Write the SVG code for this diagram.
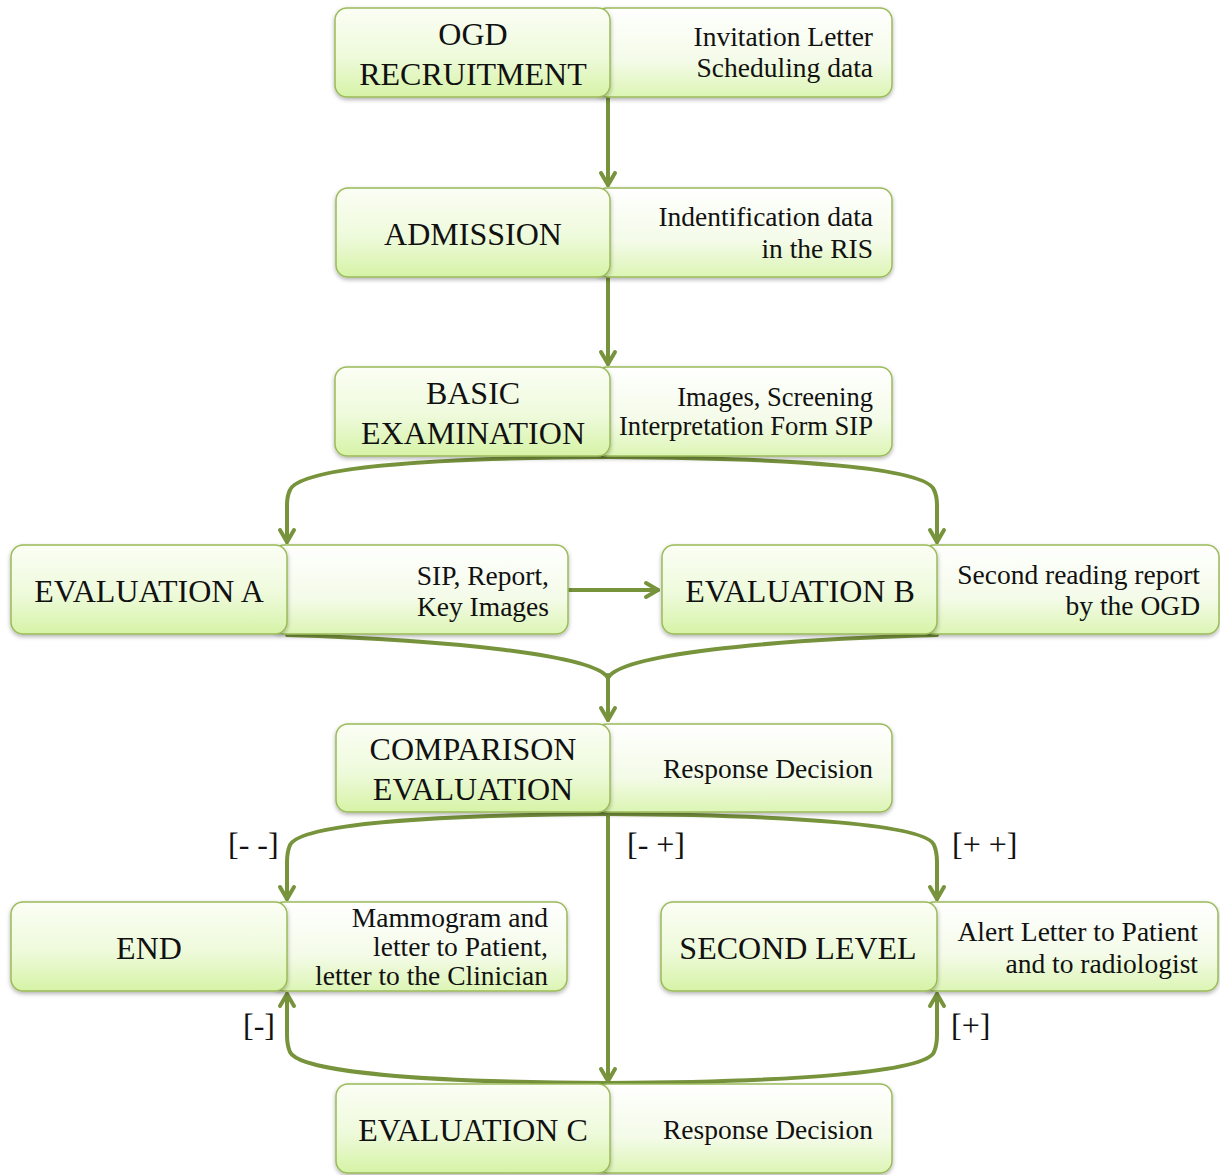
<svg xmlns="http://www.w3.org/2000/svg" width="1220" height="1175" viewBox="0 0 1220 1175">
  <defs>
    <linearGradient id="gMain" x1="0" y1="0" x2="0" y2="1">
      <stop offset="0" stop-color="#fbfef5"/>
      <stop offset="0.55" stop-color="#eefadb"/>
      <stop offset="1" stop-color="#d6f3a6"/>
    </linearGradient>
    <linearGradient id="gSide" x1="0" y1="0" x2="0" y2="1">
      <stop offset="0" stop-color="#ffffff"/>
      <stop offset="0.6" stop-color="#f4fbe8"/>
      <stop offset="1" stop-color="#dcf5b4"/>
    </linearGradient>
    <filter id="shadow" x="-5%" y="-10%" width="110%" height="130%">
      <feDropShadow dx="0" dy="2" stdDeviation="2" flood-color="#000" flood-opacity="0.3"/>
    </filter>
    <!-- open V arrowhead, drawn pointing along +x -->
    <marker id="arrow" viewBox="0 0 16 18" refX="14" refY="9" markerWidth="16" markerHeight="18" markerUnits="userSpaceOnUse" orient="auto" overflow="visible">
      <path d="M2,2 L14,9 L2,16" fill="none" stroke="#77933c" stroke-width="4" stroke-linecap="round" stroke-linejoin="round"/>
    </marker>
  </defs>
  <style>
    .main { fill: url(#gMain); stroke: #9bbb59; stroke-width: 1.5; filter: url(#shadow); }
    .side { fill: url(#gSide); stroke: #9bbb59; stroke-width: 1.5; filter: url(#shadow); }
    .title { font-family: "Liberation Serif", "DejaVu Serif", serif; font-size: 32px; fill: #111; text-anchor: middle; }
    .note { font-family: "Liberation Serif", "DejaVu Serif", serif; font-size: 27.5px; fill: #111; text-anchor: end; }
    .note.sm { font-size: 26.5px; }
    .lbl { font-family: "Liberation Serif", "DejaVu Serif", serif; font-size: 32px; fill: #111; }
    .conn path, .conn line { fill: none; stroke: #77933c; stroke-width: 4; stroke-linecap: round; }
  </style>

  <rect width="1220" height="1175" fill="#ffffff"/>

  <!-- connectors -->
  <g class="conn">
    <line x1="608" y1="98" x2="608" y2="185" marker-end="url(#arrow)"/>
    <line x1="608" y1="278" x2="608" y2="364" marker-end="url(#arrow)"/>
    <path d="M608,457 C420,458 300,468 290,490 Q287,496 287,505 L287,542" marker-end="url(#arrow)"/>
    <path d="M608,457 C796,458 926,468 934,490 Q937,496 937,505 L937,542" marker-end="url(#arrow)"/>
    <line x1="569" y1="590" x2="658" y2="590" marker-end="url(#arrow)"/>
    <path d="M287,635 C450,640 595,655 608,678"/>
    <path d="M937,635 C760,640 620,655 608,678"/>
    <line x1="608" y1="675" x2="608" y2="720" marker-end="url(#arrow)"/>
    <path d="M608,814 C420,815 300,825 290,845 Q287,852 287,862 L287,899" marker-end="url(#arrow)"/>
    <path d="M608,814 C796,815 926,825 934,845 Q937,852 937,862 L937,899" marker-end="url(#arrow)"/>
    <line x1="608" y1="814" x2="608" y2="1081" marker-end="url(#arrow)"/>
    <path d="M608,1083 C420,1082 300,1072 290,1052 Q287,1045 287,1035 L287,994" marker-end="url(#arrow)"/>
    <path d="M608,1083 C796,1082 926,1072 934,1052 Q937,1045 937,1035 L937,994" marker-end="url(#arrow)"/>
  </g>

  <!-- branch labels -->
  <text class="lbl" x="228" y="855">[- -]</text>
  <text class="lbl" x="627" y="855">[- +]</text>
  <text class="lbl" x="952" y="855">[+ +]</text>
  <text class="lbl" x="243" y="1036">[-]</text>
  <text class="lbl" x="951" y="1036">[+]</text>

  <!-- nodes -->
  <g id="ogd-recruitment">
    <rect class="side" x="595" y="8" width="297" height="89" rx="12"/>
    <rect class="main" x="335" y="8" width="275" height="89" rx="12"/>
    <text class="title" x="473" y="45">OGD</text>
    <text class="title" x="473" y="85">RECRUITMENT</text>
    <text class="note" x="873" y="46">Invitation Letter</text>
    <text class="note" x="873" y="77">Scheduling data</text>
  </g>

  <g id="admission">
    <rect class="side" x="595" y="188" width="297" height="89" rx="12"/>
    <rect class="main" x="336" y="188" width="274" height="89" rx="12"/>
    <text class="title" x="473" y="245">ADMISSION</text>
    <text class="note" x="873" y="226">Indentification data</text>
    <text class="note" x="873" y="258">in the RIS</text>
  </g>

  <g id="basic-examination">
    <rect class="side" x="595" y="367" width="297" height="89" rx="12"/>
    <rect class="main" x="335" y="367" width="275" height="89" rx="12"/>
    <text class="title" x="473" y="404">BASIC</text>
    <text class="title" x="473" y="444">EXAMINATION</text>
    <text class="note sm" x="873" y="406">Images, Screening</text>
    <text class="note sm" x="873" y="435" textLength="254" lengthAdjust="spacingAndGlyphs">Interpretation Form SIP</text>
  </g>

  <g id="evaluation-a">
    <rect class="side" x="272" y="545" width="296" height="89" rx="12"/>
    <rect class="main" x="11" y="545" width="276" height="89" rx="12"/>
    <text class="title" x="149" y="602">EVALUATION A</text>
    <text class="note" x="549" y="585">SIP, Report,</text>
    <text class="note" x="549" y="616">Key Images</text>
  </g>

  <g id="evaluation-b">
    <rect class="side" x="922" y="545" width="297" height="89" rx="12"/>
    <rect class="main" x="662" y="545" width="275" height="89" rx="12"/>
    <text class="title" x="800" y="602">EVALUATION B</text>
    <text class="note" x="1200" y="584">Second reading report</text>
    <text class="note" x="1200" y="615">by the OGD</text>
  </g>

  <g id="comparison-evaluation">
    <rect class="side" x="595" y="724" width="297" height="88" rx="12"/>
    <rect class="main" x="336" y="724" width="274" height="88" rx="12"/>
    <text class="title" x="473" y="760">COMPARISON</text>
    <text class="title" x="473" y="800">EVALUATION</text>
    <text class="note" x="873" y="778">Response Decision</text>
  </g>

  <g id="end">
    <rect class="side" x="272" y="902" width="295" height="89" rx="12"/>
    <rect class="main" x="11" y="902" width="276" height="89" rx="12"/>
    <text class="title" x="149" y="959">END</text>
    <text class="note" x="548" y="927">Mammogram and</text>
    <text class="note" x="548" y="956">letter to Patient,</text>
    <text class="note" x="548" y="985">letter to the Clinician</text>
  </g>

  <g id="second-level">
    <rect class="side" x="922" y="902" width="296" height="89" rx="12"/>
    <rect class="main" x="661" y="902" width="276" height="89" rx="12"/>
    <text class="title" x="798" y="959">SECOND LEVEL</text>
    <text class="note" x="1198" y="941">Alert Letter to Patient</text>
    <text class="note" x="1198" y="973">and to radiologist</text>
  </g>

  <g id="evaluation-c">
    <rect class="side" x="595" y="1084" width="297" height="89" rx="12"/>
    <rect class="main" x="336" y="1084" width="274" height="89" rx="12"/>
    <text class="title" x="473" y="1141">EVALUATION C</text>
    <text class="note" x="873" y="1139">Response Decision</text>
  </g>
</svg>
